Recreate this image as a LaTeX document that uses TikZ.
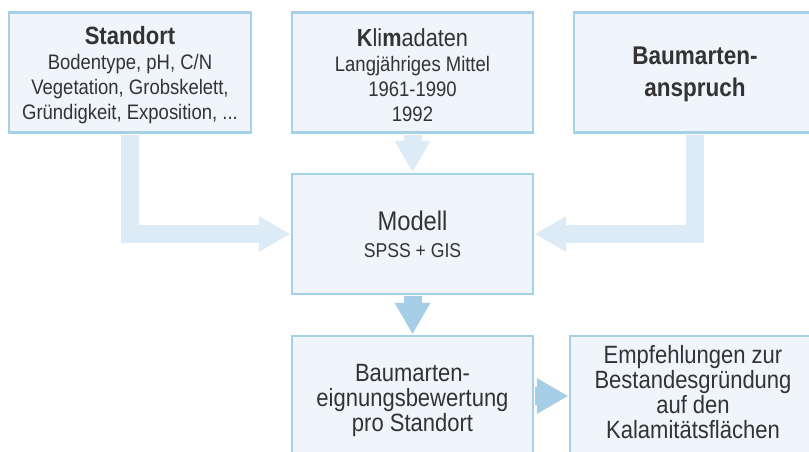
\documentclass[tikz,border=0pt]{standalone}
\usepackage{fontspec}
\setmainfont{Liberation Sans}[FakeStretch=0.88]
\usepackage{tikz}
\usetikzlibrary{arrows.meta,positioning}
\definecolor{boxline}{HTML}{A6CFE8}
\definecolor{boxfill}{HTML}{EFF5FB}
\definecolor{flowpale}{HTML}{DDEBF7}
\definecolor{flowblue}{HTML}{A6CFE7}
\definecolor{txtgray}{HTML}{333333}
\newcommand{\bodysize}{\fontsize{21}{25}\selectfont}
\newcommand{\headsize}{\fontsize{25}{25}\selectfont\bfseries}
\tikzset{
  box/.style={draw=boxline, fill=boxfill, line width=2.4pt, minimum width=242pt,
    minimum height=120pt, inner sep=0pt, align=center, text=txtgray},
  flowtip/.style={-{Triangle[length=31pt,width=36pt,line width=0pt]}},
  paleflow/.style={draw=flowpale, line width=18pt, flowtip, shorten <=1pt, shorten >=1pt},
  blueflow/.style={draw=flowblue, line width=18pt, flowtip, shorten <=1pt, shorten >=1pt}
}

\begin{document}
\begin{tikzpicture}[x=1pt,y=-1pt]
  \useasboundingbox (0,0) rectangle (809,452);
  \clip (0,0) rectangle (809,452);
  %input boxes
    \node[box, font=\bodysize] (standort) at (130,72.5)
      {\rule{0pt}{24pt}{\headsize Standort}\\Bodentype, pH, C/N\\Vegetation, Grobskelett,\\Gr\"undigkeit, Exposition, ...};
    \node[box, font=\bodysize, minimum width=241pt] (klima) at (412.5,72.5)
      {\rule{0pt}{24pt}{\fontsize{24.7}{25}\selectfont\textbf{K}li\textbf{m}adaten}\\Langj\"ahriges Mittel\\1961-1990\\1992};
    \node[box, font=\fontsize{25.6}{32}\selectfont\bfseries] (anspruch) at (695,72.5)
      {\rule{0pt}{22pt}Baumarten-\\anspruch};
  %model
    \node[box, font=\fontsize{20}{27}\selectfont, minimum width=241pt] (modell) at (412.5,234)
      {{\fontsize{27}{27}\selectfont Modell}\\SPSS + GIS};
  %results
    \node[box, font=\fontsize{25}{25}\selectfont, minimum width=241pt] (bewertung) at (412.5,396)
      {\rule{0pt}{27pt}Baumarten-\\eignungsbewertung\\pro Standort};
    \node[box, font=\fontsize{25}{25}\selectfont, minimum width=246pt] (empfehlung) at (693,396)
      {Empfehlungen zur\\Bestandesgr\"undung\\auf den\\Kalamit\"atsfl\"achen\rule[-9pt]{0pt}{9pt}};
  %draw flows
    \draw[paleflow] (standort) |- (modell);
    \draw[paleflow] (klima) -- (modell);
    \draw[paleflow] (anspruch) |- (modell);
    \draw[blueflow] (modell) -- (bewertung);
    \draw[blueflow] (bewertung) -- (empfehlung);
\end{tikzpicture}
\end{document}
